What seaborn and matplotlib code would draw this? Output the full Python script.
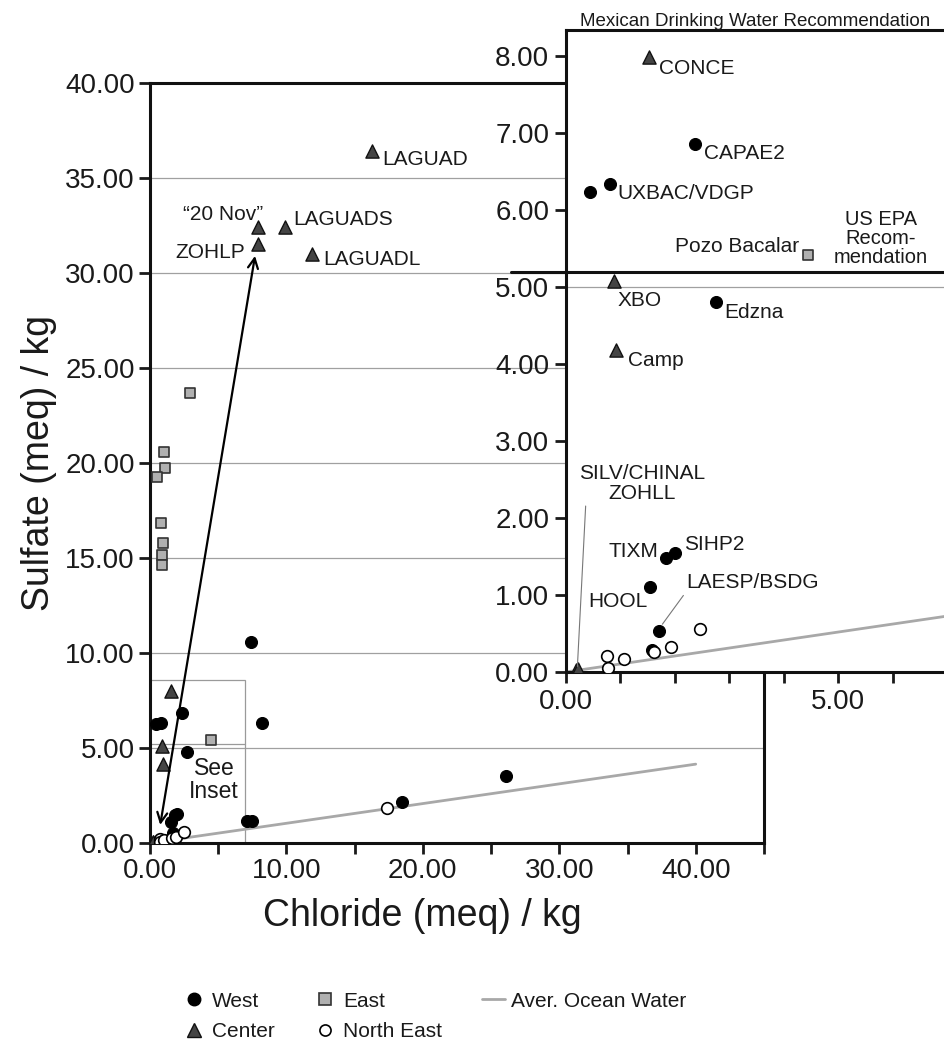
import matplotlib
matplotlib.use('Agg')
import matplotlib.pyplot as plt
import seaborn as sns
from matplotlib.lines import Line2D
from matplotlib.patches import Rectangle
from matplotlib.ticker import FormatStrFormatter, MultipleLocator, FixedLocator

sns.set_style('white')
plt.rcParams['font.family'] = ['Liberation Sans', 'DejaVu Sans']
plt.rcParams['text.color'] = '#1a1a1a'
plt.rcParams['axes.labelcolor'] = '#1a1a1a'

# West sites (black dots)
west_cl = [7.4, 2.37, 0.44, 0.81, 8.2, 2.75, 7.1, 7.45, 18.5, 26.1, 1.84, 2.0, 1.54, 1.71, 1.58]
west_so4 = [10.6, 6.86, 6.24, 6.34, 6.3, 4.81, 1.15, 1.15, 2.16, 3.53, 1.48, 1.55, 1.10, 0.53, 0.29]

# Center sites (triangles)
center_cl = [16.3, 7.9, 9.9, 7.9, 11.9, 1.52, 0.88, 0.92, 0.21, 0.19, 0.23]
center_so4 = [36.4, 32.4, 32.4, 31.5, 31.0, 7.99, 5.08, 4.18, 0.03, 0.02, 0.04]

# East sites (gray squares)
east_cl = [2.93, 1.03, 1.10, 0.51, 0.81, 0.95, 0.88, 0.88, 4.44]
east_so4 = [23.7, 20.6, 19.75, 19.26, 16.85, 15.8, 15.15, 14.65, 5.42]

# North East sites (open circles)
ne_cl = [0.75, 0.77, 1.06, 1.62, 1.93, 2.46, 17.4]
ne_so4 = [0.21, 0.05, 0.17, 0.26, 0.33, 0.56, 1.84]

# average ocean water ratio
ocean_cl = [0, 40]
ocean_so4 = [0, 4.15]

epa_limit = 5.2
mex_limit = 8.34

main_labels = [('LAGUAD', 17.0, 35.95, 'left'), ('\u201c20 Nov\u201d', 8.3, 33.1, 'right'),
               ('LAGUADS', 10.5, 32.8, 'left'), ('ZOHLP', 7.0, 31.1, 'right'),
               ('LAGUADL', 12.7, 30.7, 'left')]
inset_labels = [('CONCE', 1.71, 7.84, 'left'), ('CAPAE2', 2.53, 6.74, 'left'),
                ('UXBAC/VDGP', 0.95, 6.22, 'left'), ('Pozo Bacalar', 4.29, 5.53, 'right'),
                ('XBO', 0.95, 4.83, 'left'), ('Edzna', 2.9, 4.67, 'left'),
                ('Camp', 1.13, 4.04, 'left'), ('TIXM', 1.69, 1.57, 'right'),
                ('SIHP2', 2.17, 1.66, 'left'), ('HOOL', 1.5, 0.91, 'right')]


def draw_points(ax):
    sns.lineplot(x=ocean_cl, y=ocean_so4, color='#a8a8a8', lw=2, ax=ax, zorder=2)
    sns.scatterplot(x=east_cl, y=east_so4, marker='s', s=56, color='#b0b0b0',
                    edgecolor='#333333', linewidth=1.2, ax=ax, zorder=3)
    sns.scatterplot(x=center_cl, y=center_so4, marker='^', s=90, color='#444444',
                    edgecolor='#111111', linewidth=1.0, ax=ax, zorder=3)
    sns.scatterplot(x=west_cl, y=west_so4, marker='o', s=74, color='black',
                    edgecolor='black', linewidth=0.8, ax=ax, zorder=4)
    sns.scatterplot(x=ne_cl, y=ne_so4, marker='o', s=70, color='white',
                    edgecolor='black', linewidth=1.2, ax=ax, zorder=4)


fig = plt.figure(figsize=(9.45, 10.41), dpi=100)

# main plot
ax = fig.add_axes([0.1587, 0.1902, 0.6497, 0.7301])
draw_points(ax)
ax.set_xlim(0, 45)
ax.set_ylim(0, 40)
ax.xaxis.set_major_locator(MultipleLocator(10))
ax.xaxis.set_minor_locator(FixedLocator([5, 15, 25, 35, 45]))
ax.yaxis.set_major_locator(MultipleLocator(5))
ax.xaxis.set_major_formatter(FormatStrFormatter('%.2f'))
ax.yaxis.set_major_formatter(FormatStrFormatter('%.2f'))
ax.tick_params(which='both', direction='out', length=8, width=2, labelsize=20,
               bottom=True, left=True, pad=3, colors='#1a1a1a')
for s in ax.spines.values():
    s.set_linewidth(2.2)
    s.set_color('#111111')
for yv in [5, 10, 15, 20, 25, 30, 35]:
    ax.axhline(yv, color='#a0a0a0', lw=0.9, zorder=1)
ax.set_xlabel('Chloride (meq) / kg', fontsize=27, labelpad=10)
ax.xaxis.label.set_x(0.443)
ax.set_ylabel('Sulfate (meq) / kg', fontsize=27, labelpad=6)

# see-inset box
ax.add_patch(Rectangle((0, 0), 7.0, 8.6, fill=False, ec='#9a9a9a', lw=0.9, zorder=1))
ax.plot([0, 7.0], [epa_limit, epa_limit], color='#9a9a9a', lw=0.9, zorder=1)
ax.text(4.7, 3.3, 'See\nInset', ha='center', va='center', fontsize=16.5, linespacing=1.0)

for txt, x, y, ha in main_labels:
    ax.text(x, y, txt, ha=ha, va='center', fontsize=15)

ax.annotate('', xy=(7.7, 30.9), xytext=(0.75, 0.95),
            arrowprops=dict(arrowstyle='<->', lw=1.6, color='black',
                            mutation_scale=18, shrinkA=0, shrinkB=0), zorder=5)

# inset
ax_in = fig.add_axes([0.5989, 0.3545, 0.40, 0.6167])
ax_in.set_facecolor('white')
draw_points(ax_in)
ax_in.set_xlim(0, 6.94)
ax_in.set_ylim(0, mex_limit)
ax_in.xaxis.set_major_locator(FixedLocator([0, 5]))
ax_in.xaxis.set_minor_locator(FixedLocator([1, 2, 3, 4, 6]))
ax_in.yaxis.set_major_locator(MultipleLocator(1))
ax_in.xaxis.set_major_formatter(FormatStrFormatter('%.2f'))
ax_in.yaxis.set_major_formatter(FormatStrFormatter('%.2f'))
ax_in.tick_params(which='both', direction='out', length=8, width=2, labelsize=20,
                  bottom=True, left=True, pad=4, colors='#1a1a1a')
for name, s in ax_in.spines.items():
    s.set_linewidth(2.2)
    s.set_color('#111111')
ax_in.spines['right'].set_visible(False)
ax_in.axhline(5.0, color='#a0a0a0', lw=0.9, zorder=1)
ax_in.plot([-1.0, 6.94], [epa_limit, epa_limit], color='#111111', lw=2.2, clip_on=False, zorder=5)
ax_in.set_title('Mexican Drinking Water Recommendation', fontsize=13.5, pad=3)

for txt, x, y, ha in inset_labels:
    ax_in.text(x, y, txt, ha=ha, va='center', fontsize=15)
ax_in.text(5.78, 5.63, 'US EPA\nRecom-\nmendation', ha='center', va='center',
           fontsize=14.5, linespacing=1.0)
ax_in.annotate('SILV/CHINAL\nZOHLL', xy=(0.21, 0.07), xytext=(1.4, 2.45),
               ha='center', va='center', fontsize=15, linespacing=1.05,
               arrowprops=dict(arrowstyle='-', color='#777777', lw=0.8,
                               relpos=(0.06, 0.45), shrinkA=0, shrinkB=0))
ax_in.annotate('LAESP/BSDG', xy=(1.77, 0.62), xytext=(2.2, 1.16),
               ha='left', va='center', fontsize=15,
               arrowprops=dict(arrowstyle='-', color='#777777', lw=0.8,
                               relpos=(0.0, 0.0), shrinkA=0, shrinkB=0))

# legend
handles = [
    Line2D([], [], ls='none', marker='o', ms=9, mfc='black', mec='black'),
    Line2D([], [], ls='none', marker='^', ms=10, mfc='#444444', mec='#111111'),
    Line2D([], [], ls='none', marker='s', ms=8, mfc='#b0b0b0', mec='#333333', mew=1.2),
    Line2D([], [], ls='none', marker='o', ms=8, mfc='white', mec='black', mew=1.2),
    Line2D([], [], color='#a8a8a8', lw=2),
]
labels = ['West', 'Center', 'East', 'North East', 'Aver. Ocean Water']
fig.legend(handles, labels, loc='upper left', bbox_to_anchor=(0.193, 0.0475),
           ncol=3, frameon=False, fontsize=15, handlelength=1.1, handletextpad=0.3,
           columnspacing=1.9, labelspacing=0.55, borderaxespad=0, borderpad=0)

fig.savefig('out.png', dpi=100)
